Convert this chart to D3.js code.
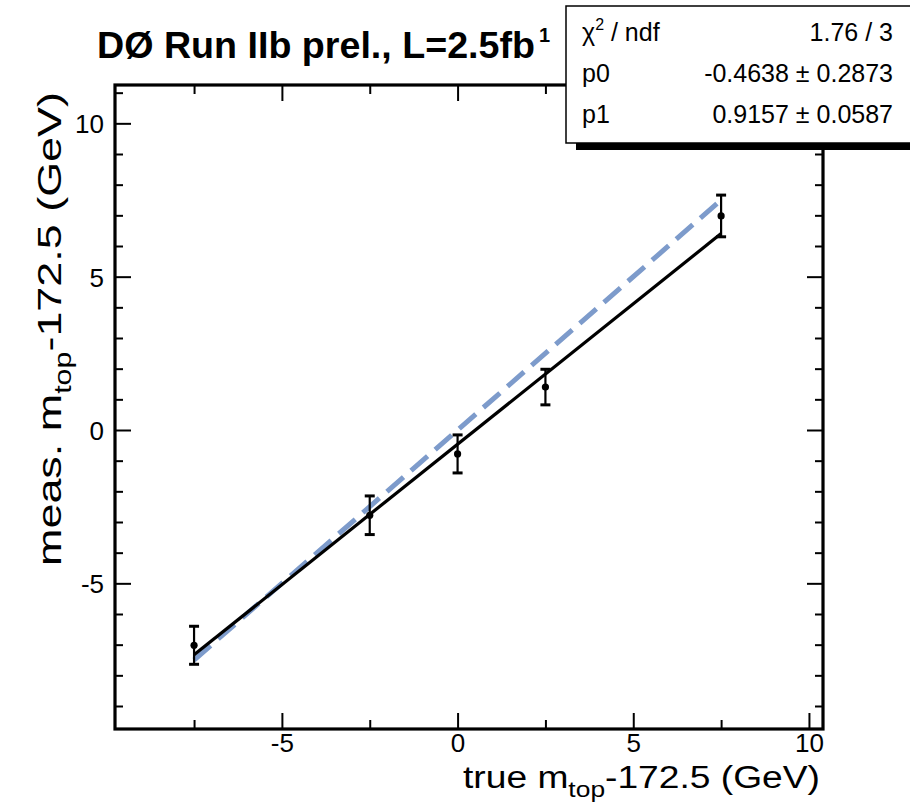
<!DOCTYPE html>
<html>
<head>
<meta charset="utf-8">
<script src="https://cdn.jsdelivr.net/npm/d3@7"></script>
<style>
  html, body { margin: 0; padding: 0; background: #fff; }
  svg { display: block; font-family: "Liberation Sans", Arial, Helvetica, sans-serif; }
</style>
</head>
<body>
<svg id="chart" width="910" height="806"></svg>
<script>
// Calibration points: true top mass shift vs. measured shift (GeV)
const trueShift = [-7.5, -2.5, 0, 2.5, 7.5];
const measShift = [-7.02, -2.78, -0.78, 1.40, 6.98];
const measErr   = [0.62, 0.63, 0.62, 0.58, 0.68];

// Linear fit result p0 + p1*x and the stats box contents
const fitP0 = -0.4638;
const fitP1 = 0.9157;
const fitRange = [-7.5, 7.5];
const statNames  = ["\u03C7\u00B2 / ndf", "p0", "p1"];
const statValues = ["1.76 / 3", "-0.4638 \u00B1 0.2873", "0.9157 \u00B1 0.0587"];

// Axis ticks
const xMajor = [-5, 0, 5, 10];
const xMinor = [-7.5, -2.5, 2.5, 7.5];
const yMajor = [-5, 0, 5, 10];
const yMinor = [-9, -8, -7, -6, -4, -3, -2, -1, 1, 2, 3, 4, 6, 7, 8, 9, 11];

const svg = d3.select("#chart");
const L = 115, R = 823, T = 85, B = 729;

const x = d3.scaleLinear().domain([-9.75, 10.4]).range([L, R]);
const y = d3.scaleLinear().domain([-9.75, 11.25]).range([B, T]);

const plot = svg.append("g");
const fmt = d => String(d);   // plain hyphen-minus, as in ROOT output

// ticks on all four sides, pointing inwards
function ticks(axisGen, scale, vals, size, tx, ty) {
  const g = plot.append("g").attr("transform", `translate(${tx},${ty})`)
    .call(axisGen(scale).tickValues(vals).tickSize(size).tickFormat(""));
  g.select(".domain").remove();
  g.selectAll(".tick line").attr("stroke", "#000").attr("stroke-width", 2);
  return g;
}
ticks(d3.axisTop, x, xMajor, 16, 0, B);
ticks(d3.axisTop, x, xMinor, 9, 0, B);
ticks(d3.axisBottom, x, xMajor, 16, 0, T);
ticks(d3.axisBottom, x, xMinor, 9, 0, T);
ticks(d3.axisRight, y, yMajor, 16, L, 0);
ticks(d3.axisRight, y, yMinor, 8, L, 0);
ticks(d3.axisLeft, y, yMajor, 16, R, 0);
ticks(d3.axisLeft, y, yMinor, 8, R, 0);

// tick labels
const xl = plot.append("g").attr("transform", `translate(0,${B})`)
  .call(d3.axisBottom(x).tickValues(xMajor).tickSize(0).tickPadding(23).tickFormat(fmt));
xl.select(".domain").remove();
xl.selectAll("text").attr("font-size", 26).attr("fill", "#000")
  .attr("font-family", "Liberation Sans, Arial, sans-serif").attr("dy", 0);

const yl = plot.append("g").attr("transform", `translate(${L},0)`)
  .call(d3.axisLeft(y).tickValues(yMajor).tickSize(0).tickPadding(11).tickFormat(fmt));
yl.select(".domain").remove();
yl.selectAll("text").attr("font-size", 26).attr("fill", "#000")
  .attr("font-family", "Liberation Sans, Arial, sans-serif").attr("dy", "0.36em");

// frame
plot.append("rect").attr("x", L).attr("y", T).attr("width", R - L).attr("height", B - T)
  .attr("fill", "none").attr("stroke", "#000").attr("stroke-width", 3.2);

// reference line meas = true (dashed)
const line = d3.line().x(d => x(d[0])).y(d => y(d[1]));
plot.append("path")
  .attr("d", line(fitRange.map(v => [v, v])))
  .attr("stroke", "#7d9bcb").attr("stroke-width", 5)
  .attr("stroke-dasharray", "22,10").attr("fill", "none");

// fitted line
plot.append("path")
  .attr("d", line(fitRange.map(v => [v, fitP0 + fitP1 * v])))
  .attr("stroke", "#000").attr("stroke-width", 3.2).attr("fill", "none");

// points with error bars
const pts = trueShift.map((t, i) => ({ t, m: measShift[i], e: measErr[i] }));
const eb = plot.append("g").selectAll("g").data(pts).join("g");
eb.append("line")
  .attr("x1", d => x(d.t)).attr("x2", d => x(d.t))
  .attr("y1", d => y(d.m + d.e)).attr("y2", d => y(d.m - d.e))
  .attr("stroke", "#000").attr("stroke-width", 2.2);
[1, -1].forEach(s => {
  eb.append("line")
    .attr("x1", d => x(d.t) - 5).attr("x2", d => x(d.t) + 5)
    .attr("y1", d => y(d.m + s * d.e)).attr("y2", d => y(d.m + s * d.e))
    .attr("stroke", "#000").attr("stroke-width", 3);
});
eb.append("circle").attr("cx", d => x(d.t)).attr("cy", d => y(d.m)).attr("r", 3.6).attr("fill", "#000");

// title
svg.append("text").attr("x", 97).attr("y", 58)
  .attr("font-size", 36).attr("font-weight", "bold").attr("fill", "#000")
  .attr("textLength", 438).attr("lengthAdjust", "spacingAndGlyphs")
  .text("D\u00D8 Run IIb prel., L=2.5fb");
svg.append("text").attr("x", 539).attr("y", 42)
  .attr("font-size", 20).attr("font-weight", "bold").attr("fill", "#000").text("1");

// axis titles
const xt = svg.append("text").attr("x", 463).attr("y", 788)
  .attr("font-size", 31).attr("fill", "#000")
  .attr("textLength", 357).attr("lengthAdjust", "spacingAndGlyphs");
xt.append("tspan").text("true m");
xt.append("tspan").attr("font-size", 22).attr("dy", 9).text("top");
xt.append("tspan").attr("dy", -9).text("-172.5 (GeV)");

const yt = svg.append("text").attr("transform", "translate(61,566) rotate(-90)")
  .attr("font-size", 34).attr("fill", "#000")
  .attr("textLength", 474).attr("lengthAdjust", "spacingAndGlyphs");
yt.append("tspan").text("meas. m");
yt.append("tspan").attr("font-size", 23).attr("dy", 10).text("top");
yt.append("tspan").attr("dy", -10).text("-172.5 (GeV)");

// stats box with shadow
const bx = 566, by = 6, bw = 360, bh = 137;
svg.append("rect").attr("x", bx + 10).attr("y", by + 7).attr("width", bw).attr("height", bh)
  .attr("fill", "#000");
svg.append("rect").attr("x", bx).attr("y", by).attr("width", bw).attr("height", bh)
  .attr("fill", "#fff").attr("stroke", "#000").attr("stroke-width", 1.5);
const rowY = [41, 82, 123];
statNames.forEach((n, i) => {
  const t = svg.append("text").attr("x", 582).attr("y", rowY[i]).attr("font-size", 25).attr("fill", "#000");
  if (i === 0) {
    t.append("tspan").text("\u03C7");
    t.append("tspan").attr("font-size", 16).attr("dy", -11).text("2");
    t.append("tspan").attr("dy", 11).text(" / ndf");
  } else {
    t.text(n);
  }
  svg.append("text").attr("x", 893).attr("y", rowY[i]).attr("text-anchor", "end")
    .attr("font-size", 25).attr("fill", "#000").text(statValues[i]);
});
</script>
</body>
</html>
